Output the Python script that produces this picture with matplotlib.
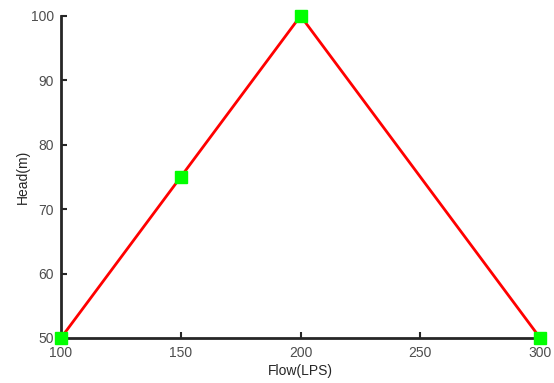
import matplotlib
matplotlib.use("Agg")
import matplotlib.pyplot as plt

#----------------------------------------------------------------data
flow = [100, 150, 200, 300]
head = [50, 75, 100, 50]
x_ticks = [100, 150, 200, 250, 300]
y_ticks = [50, 60, 70, 80, 90, 100]

plt.rcParams['font.family'] = ['Liberation Sans', 'DejaVu Sans']

fig = plt.figure(figsize=(5.54, 3.83), dpi=100)
ax = fig.add_axes([0.110, 0.1175, 0.865, 0.841])

ax.plot(flow, head, color='#ff0000', lw=2, zorder=3, clip_on=False)
ax.plot(flow, head, ls='none', marker='s', ms=8.5, color='#00ff00', zorder=4, clip_on=False)

ax.set_xlim(100, 300)
ax.set_ylim(50, 100)
ax.set_xticks(x_ticks)
ax.set_yticks(y_ticks)

for s in ['top', 'right']:
  ax.spines[s].set_visible(False)
for s in ['left', 'bottom']:
  ax.spines[s].set_linewidth(2)
  ax.spines[s].set_color('#262626')

ax.tick_params(direction='in', length=4, width=1.5, color='#262626', labelsize=10, labelcolor='#4d4d4d')
ax.tick_params(axis='x', pad=6)
ax.tick_params(axis='y', pad=5)
ax.set_xlabel('Flow(LPS)', fontsize=10, color='#262626', labelpad=3)
ax.set_ylabel('Head(m)', fontsize=10, color='#262626', labelpad=1)

fig.savefig('out.png', dpi=100)
